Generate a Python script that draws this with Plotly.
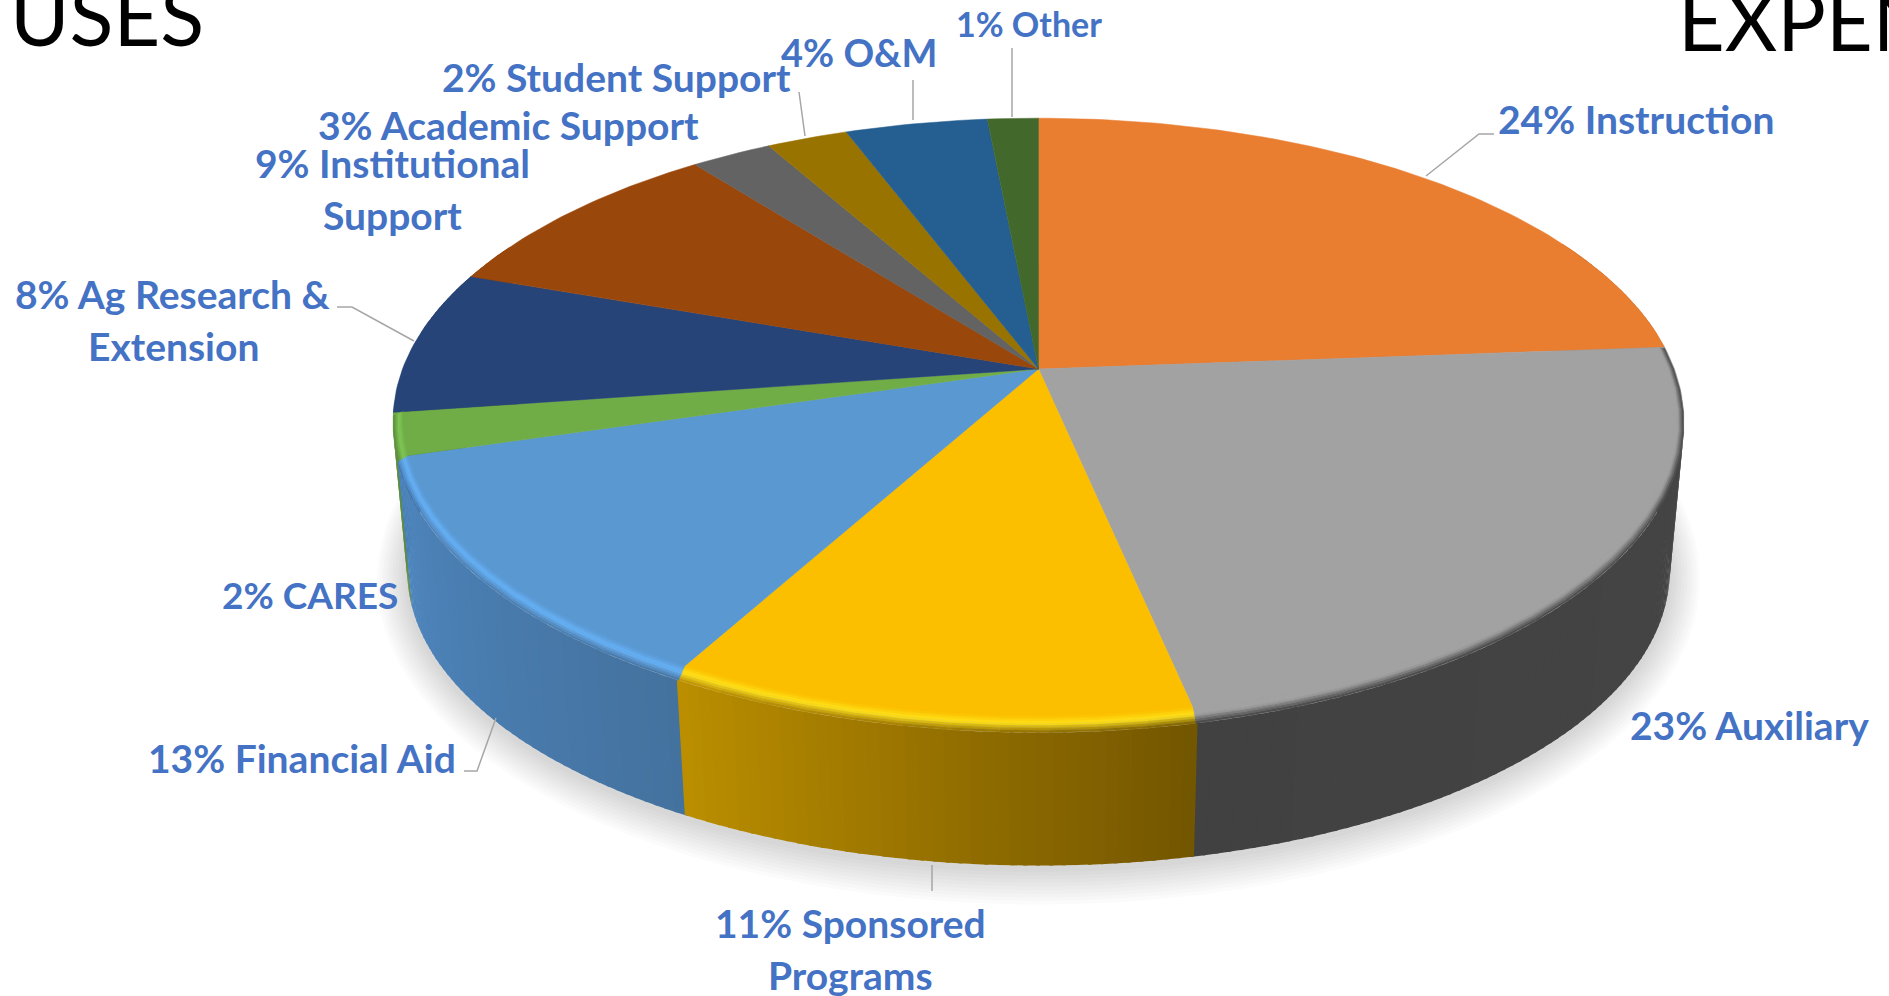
import numpy as np
import plotly.graph_objects as go

# Slices, clockwise from 12 o'clock
CATEGORIES = ["Instruction", "Auxiliary", "Sponsored Programs", "Financial Aid", "CARES",
              "Ag Research & Extension", "Institutional Support", "Academic Support",
              "Student Support", "O&M", "Other"]
SHARES = [23.8, 22.9, 11.3, 12.4, 2.3, 7.7, 9.1, 2.4, 2.4, 4.2, 1.5]

# label text, one entry per line
LABEL_LINES = [["24% Instruction"], ["23% Auxiliary"], ["11% Sponsored", "Programs"],
               ["13% Financial Aid"], ["2% CARES"], ["8% Ag Research &", "Extension"],
               ["9% Institutional", "Support"], ["3% Academic Support"], ["2% Student Support"],
               ["4% O&M"], ["1% Other"]]

# styling
FACE = ["#E97D30", "#A2A2A2", "#FCBF00", "#5A98D2", "#70AD47", "#264478",
        "#9A470C", "#636363", "#997300", "#255E91", "#43682B"]
WALL_START = ["#B0601F", "#464646", "#725500", "#44729F", "#5A8A3A", "#1C3358",
              "#74360A", "#4A4A4A", "#735600", "#1C466D", "#324E20"]
WALL_END = ["#B0601F", "#414141", "#BC8F00", "#4E86BE", "#5A8A3A", "#1C3358",
            "#74360A", "#4A4A4A", "#735600", "#1C466D", "#324E20"]
HIGHLIGHT = {1: "#A2A2A2", 2: "#FFE21A", 3: "#66B2F8", 4: "#82C957"}

LABEL_POS = [(1636, 119), (1749, 725), (850, 923), (302, 758), (310, 594), (173, 294),
             (392, 163), (508, 125), (616, 77), (859, 52), (1029, 23)]
LABEL_SIZE = [39, 39, 39, 39, 37, 39, 39, 39, 39, 38, 34]
LINE_GAP = 52
LEADERS = [[(1494, 134), (1479, 134), (1426, 176)],
           [(464, 771), (477, 771), (496, 718)],
           [(932, 865), (932, 891)],
           [(337, 307), (352, 307), (414, 341)],
           [(799, 92), (805, 136)],
           [(913, 80), (913, 120)],
           [(1012, 48), (1012, 117)]]

WIDTH, HEIGHT = 1889, 996
CX, CY = 1038.5, 369
A, B, K = 636, 293.5, 0.17     # top face perspective
A2, B2, CY2 = 622, 286, 521    # bottom rim
BEVEL = 10


def top_pt(deg, r=1.0):
    t = np.radians(deg)
    u, v = np.sin(t), np.cos(t)
    w = 1 + K * v * r
    return CX + A * r * u / w, CY - B * r * v / w


def bevel_drop(deg):
    v = np.cos(np.radians(deg))
    return BEVEL * np.clip((0.15 - v) / 1.15, 0, 1) ** 0.8


def outer_pt(deg):
    x, y = top_pt(deg)
    return x, y + bevel_drop(deg)


def bottom_pt(deg, grow=0.0, drop=0.0):
    t = np.radians(deg)
    u, v = np.sin(t), np.cos(t)
    w = 1 + K * v
    return CX + (A2 + grow) * u / w, CY2 + drop - (B2 + grow) * v / w


def hex_rgb(c):
    return np.array([int(c[i:i + 2], 16) for i in (1, 3, 5)], dtype=float)


def mix(c1, c2, t):
    r = hex_rgb(c1) * (1 - t) + hex_rgb(c2) * t
    return "#%02X%02X%02X" % tuple(int(round(x)) for x in r)


def poly(fig, pts, color, line=0.7):
    xs = [p[0] for p in pts] + [pts[0][0]]
    ys = [p[1] for p in pts] + [pts[0][1]]
    fig.add_trace(go.Scatter(x=xs, y=ys, mode="lines", fill="toself", fillcolor=color,
                             line=dict(color=color, width=line), hoverinfo="skip", showlegend=False))


fig = go.Figure()

bounds = np.cumsum([0] + SHARES) / np.sum(SHARES) * 360

# soft shadow under the pie
for grow in range(30, 0, -3):
    ang = np.arange(0, 361, 3)
    poly(fig, [bottom_pt(a, grow, 3) for a in ang], "rgba(0,0,0,0.015)", line=0)

# side walls, far strips first
strips = []
for i in range(len(SHARES)):
    a0, a1 = bounds[i], bounds[i + 1]
    n = max(1, int(np.ceil(a1 - a0)))
    edges = np.linspace(a0, a1, n + 1)
    for j in range(n):
        if np.cos(np.radians((edges[j] + edges[j + 1]) / 2)) < 0.45:
            strips.append((i, edges[j], edges[j + 1], (j + 0.5) / n))
strips.sort(key=lambda s: -np.cos(np.radians((s[1] + s[2]) / 2)))
for i, e0, e1, t in strips:
    col = mix(WALL_START[i], WALL_END[i], t)
    e0, e1 = e0 - 0.15, e1 + 0.15   # small overlap so no seams show
    poly(fig, [outer_pt(e0), outer_pt(e1), bottom_pt(e1), bottom_pt(e0)], col, line=0)

# top face
for i in range(len(SHARES)):
    arc = np.linspace(bounds[i], bounds[i + 1], max(3, int(bounds[i + 1] - bounds[i]) + 1))
    poly(fig, [(CX, CY)] + [top_pt(a) for a in arc], FACE[i], line=0.5)

# rounded rim of the front slices
STEPS = 7


def rim(a, t):
    xi, yi = top_pt(a, 0.985)
    xo, yo = outer_pt(a)
    return xi + (xo - xi) * t, yi + (yo - yi) * t


for i, hi in HIGHLIGHT.items():
    a0, a1 = bounds[i], bounds[i + 1]
    n = max(1, int(np.ceil((a1 - a0) / 4)))
    edges = np.linspace(a0, a1, n + 1)
    for j in range(n):
        wall = mix(WALL_START[i], WALL_END[i], (j + 0.5) / n)
        for s in range(STEPS):
            t0, t1 = s / STEPS, (s + 1) / STEPS
            tm = (t0 + t1) / 2
            col = mix(FACE[i], hi, tm / 0.45) if tm < 0.45 else mix(hi, wall, (tm - 0.45) / 0.55)
            poly(fig, [rim(edges[j], t0), rim(edges[j + 1], t0), rim(edges[j + 1], t1), rim(edges[j], t1)], col, line=0.4)

# leader lines
for pts in LEADERS:
    fig.add_trace(go.Scatter(x=[p[0] for p in pts], y=[p[1] for p in pts], mode="lines",
                             line=dict(color="#A6A6A6", width=1.5), hoverinfo="skip", showlegend=False))

# data labels
for lines, (lx, ly), size in zip(LABEL_LINES, LABEL_POS, LABEL_SIZE):
    for n, line in enumerate(lines):
        fig.add_annotation(x=lx, y=ly + n * LINE_GAP, text=line, showarrow=False,
                           xanchor="center", yanchor="middle",
                           font=dict(family="Lato", size=size, color="#4472C4", weight="bold"))

# slide headings that run off the page
fig.add_annotation(x=8, y=65, text="USES", showarrow=False, xanchor="left", yanchor="bottom",
                   font=dict(family="Lato", size=81, color="#000000"))
fig.add_annotation(x=1676, y=70, text="EXPEN", showarrow=False, xanchor="left", yanchor="bottom",
                   font=dict(family="Lato", size=81, color="#000000"))

fig.update_layout(
    width=WIDTH, height=HEIGHT,
    margin=dict(l=0, r=0, t=0, b=0),
    paper_bgcolor="#FFFFFF", plot_bgcolor="#FFFFFF",
    xaxis=dict(range=[0, WIDTH], visible=False, fixedrange=True),
    yaxis=dict(range=[HEIGHT, 0], visible=False, fixedrange=True),
    showlegend=False,
)

fig.write_html("out.html", config=dict(displayModeBar=False), post_script="document.body.style.margin='0';")
